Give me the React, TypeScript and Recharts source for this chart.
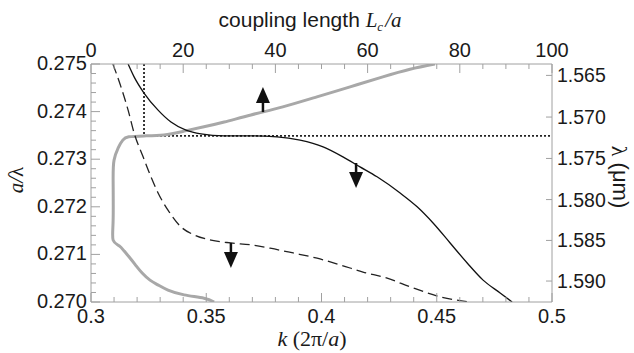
import { ComposedChart, Line, XAxis, YAxis, ReferenceLine, ReferenceDot } from 'recharts';

// lattice constant in µm, links a/λ (left axis) to λ (right axis)
const latticeA = 0.43;

const kMajorTicks = [0.3, 0.35, 0.4, 0.45, 0.5];
const lengthMajorTicks = [0, 20, 40, 60, 80, 100];
const aLambdaMajorTicks = [0.27, 0.271, 0.272, 0.273, 0.274, 0.275];
const lambdaTicks = [1.565, 1.57, 1.575, 1.58, 1.585, 1.59];

// band curves, k (2π/a) vs a/λ
const solidK = [0.3161, 0.3187, 0.323, 0.3291, 0.3347, 0.3412, 0.3477, 0.3577, 0.3694, 0.3807, 0.3907, 0.4007, 0.4093, 0.4167, 0.4241, 0.4341, 0.4415, 0.4484, 0.4558, 0.4632, 0.4701, 0.4775, 0.4827];
const solidY = [0.275, 0.27473, 0.27439, 0.27403, 0.27378, 0.27361, 0.27353, 0.27349, 0.27349, 0.27347, 0.2734, 0.27326, 0.27305, 0.27284, 0.27263, 0.27229, 0.272, 0.27166, 0.27124, 0.27082, 0.27046, 0.27019, 0.27];
const dashedK = [0.3095, 0.313, 0.3161, 0.3187, 0.3226, 0.326, 0.3291, 0.3334, 0.339, 0.3447, 0.3521, 0.3607, 0.3694, 0.3777, 0.3877, 0.3981, 0.4081, 0.418, 0.4285, 0.4384, 0.4515, 0.4645];
const dashedY = [0.275, 0.27452, 0.27403, 0.27355, 0.27305, 0.27263, 0.27229, 0.27193, 0.27158, 0.27141, 0.2713, 0.27124, 0.2712, 0.27113, 0.27103, 0.27092, 0.27078, 0.27063, 0.2705, 0.27032, 0.27011, 0.27];

// coupling length L_c/a vs a/λ (top axis)
const couplingL = [74.6, 69.2, 63.3, 56.2, 49.0, 41.6, 34.7, 28.9, 24.5, 20.2, 15.8, 11.5, 8.2, 6.9, 5.9, 5.0, 4.8, 4.8, 4.8, 6.1, 7.2, 8.5, 9.8, 11.1, 12.8, 14.5, 16.7, 20.2, 24.5, 26.7];
const couplingY = [0.275, 0.27489, 0.27473, 0.27452, 0.27431, 0.2741, 0.27393, 0.27378, 0.27368, 0.27359, 0.27351, 0.27349, 0.27347, 0.2734, 0.27324, 0.27298, 0.27256, 0.27172, 0.2713, 0.27118, 0.27107, 0.27092, 0.27076, 0.27061, 0.27046, 0.27036, 0.27025, 0.27015, 0.27008, 0.27];

const crossL = 11.5;
const crossY = 0.27349;

const solidData = solidK.map((k, i) => ({ k, y: solidY[i] }));
const dashedData = dashedK.map((k, i) => ({ k, y: dashedY[i] }));
const couplingData = couplingL.map((L, i) => ({ L, y: couplingY[i] }));

const kTicks = Array.from({ length: 21 }, (_, i) => +(0.3 + i * 0.01).toFixed(2));
const lengthTicks = Array.from({ length: 21 }, (_, i) => i * 5);
const aLambdaTicks = Array.from({ length: 26 }, (_, i) => +(0.27 + i * 0.0002).toFixed(4));
const lambdaTickPos = lambdaTicks.map((l) => latticeA / l);

const sans = 'Liberation Sans, Arial, sans-serif';
const serif = 'Liberation Serif, Times New Roman, serif';
const textColor = '#1a1a1a';
const frameColor = '#a0a0a0';

const isMajor = (v: number, list: number[]) => list.some((m) => Math.abs(m - v) < 1e-7);

const LeftTick = ({ x, y, payload }: any) => {
  const major = isMajor(payload.value, aLambdaMajorTicks);
  return (
    <g>
      <line x1={x} x2={x + (major ? 9 : 5)} y1={y} y2={y} stroke={frameColor} />
      {major && (
        <text x={x - 4} y={y - 1} textAnchor="end" dominantBaseline="central" fontSize={20} fontFamily={sans} fill={textColor}>
          {payload.value.toFixed(3)}
        </text>
      )}
    </g>
  );
};

const RightTick = ({ x, y, payload }: any) => (
  <g>
    <line x1={x} x2={x - 6} y1={y} y2={y} stroke={frameColor} />
    <text x={x + 5} y={y} textAnchor="start" dominantBaseline="central" fontSize={19.5} fontFamily={sans} fill={textColor}>
      {(latticeA / payload.value).toFixed(3)}
    </text>
  </g>
);

const BottomTick = ({ x, y, payload }: any) => {
  const major = isMajor(payload.value, kMajorTicks);
  return (
    <g>
      <line x1={x} x2={x} y1={y} y2={y - (major ? 9 : 5)} stroke={frameColor} />
      {major && (
        <text x={x} y={y + 7} dy="0.71em" textAnchor="middle" fontSize={20} fontFamily={sans} fill={textColor}>
          {String(payload.value)}
        </text>
      )}
    </g>
  );
};

const TopTick = ({ x, y, payload }: any) => {
  const major = isMajor(payload.value, lengthMajorTicks);
  return (
    <g>
      <line x1={x} x2={x} y1={y} y2={y + (major ? 9 : 5)} stroke={frameColor} />
      {major && (
        <text x={x} y={y - 7} textAnchor="middle" fontSize={20} fontFamily={sans} fill={textColor}>
          {String(payload.value)}
        </text>
      )}
    </g>
  );
};

const TopTitle = () => (
  <text x={310} y={27} textAnchor="middle" fontSize={21} fontFamily={sans} fill={textColor}>
    coupling length{' '}
    <tspan fontFamily={serif} fontStyle="italic">L</tspan>
    <tspan fontFamily={serif} fontStyle="italic" fontSize={13} dy={4}>c</tspan>
    <tspan fontFamily={serif} fontStyle="italic" dy={-4} dx={2}>/a</tspan>
  </text>
);

const BottomTitle = () => (
  <text x={312} y={346} textAnchor="middle" fontSize={22} fontFamily={serif} fill={textColor}>
    <tspan fontStyle="italic">k</tspan> (2π/<tspan fontStyle="italic">a</tspan>)
  </text>
);

const LeftTitle = () => (
  <text x={16} y={180} textAnchor="middle" dominantBaseline="central" fontSize={21} fontFamily={serif} fill={textColor} transform="rotate(-90 16 180)">
    <tspan fontStyle="italic">a/</tspan>λ
  </text>
);

const RightTitle = () => (
  <text x={620} y={177} textAnchor="middle" dominantBaseline="central" fontSize={22} fontFamily={sans} fill={textColor} transform="rotate(90 620 177)">
    <tspan fontFamily={serif}>λ</tspan> (μm)
  </text>
);

// arrow: stem starts on the curve (cx, cy), dir -1 up / 1 down
const arrowShape = (dir: number) => (props: any) => {
  const { cx, cy } = props;
  const stemEnd = cy + dir * 9;
  const tip = cy + dir * 25;
  return (
    <g>
      <line x1={cx} x2={cx} y1={cy} y2={stemEnd + dir * 2} stroke="#111" strokeWidth={2.5} />
      <path d={`M${cx - 7},${stemEnd} L${cx + 7},${stemEnd} L${cx},${tip} Z`} fill="#111" />
    </g>
  );
};

export default function App() {
  return (
    <div style={{ position: 'absolute', left: 0, top: 0, width: 634, height: 353, background: '#fff' }}>
      <ComposedChart width={634} height={353} margin={{ top: 0, right: 0, bottom: 0, left: 0 }}>
        <XAxis
          xAxisId="k"
          dataKey="k"
          type="number"
          orientation="bottom"
          domain={[0.3, 0.5]}
          ticks={kTicks}
          interval={0}
          height={51}
          tickSize={0}
          tickMargin={0}
          tickLine={false}
          axisLine={{ stroke: frameColor }}
          tick={<BottomTick />}
          allowDataOverflow
          label={<BottomTitle />}
        />
        <XAxis
          xAxisId="L"
          dataKey="L"
          type="number"
          orientation="top"
          domain={[0, 100]}
          ticks={lengthTicks}
          interval={0}
          height={64}
          tickSize={0}
          tickMargin={0}
          tickLine={false}
          axisLine={{ stroke: frameColor }}
          tick={<TopTick />}
          allowDataOverflow
          label={<TopTitle />}
        />
        <YAxis
          yAxisId="left"
          dataKey="y"
          type="number"
          domain={[0.27, 0.275]}
          ticks={aLambdaTicks}
          interval={0}
          width={91}
          tickSize={0}
          tickMargin={0}
          tickLine={false}
          axisLine={{ stroke: frameColor }}
          tick={<LeftTick />}
          allowDataOverflow
          label={<LeftTitle />}
        />
        <YAxis
          yAxisId="right"
          orientation="right"
          type="number"
          domain={[0.27, 0.275]}
          ticks={lambdaTickPos}
          interval={0}
          width={82}
          tickSize={0}
          tickMargin={0}
          tickLine={false}
          axisLine={{ stroke: frameColor }}
          tick={<RightTick />}
          allowDataOverflow
          label={<RightTitle />}
        />
        <ReferenceLine
          xAxisId="L"
          yAxisId="left"
          segment={[{ x: crossL, y: 0.275 }, { x: crossL, y: crossY }]}
          stroke="#222"
          strokeWidth={1.8}
          strokeDasharray="2 2"
        />
        <ReferenceLine
          xAxisId="L"
          yAxisId="left"
          segment={[{ x: crossL, y: crossY }, { x: 100, y: crossY }]}
          stroke="#222"
          strokeWidth={1.8}
          strokeDasharray="2 2"
        />
        <Line
          xAxisId="L"
          yAxisId="left"
          data={couplingData}
          dataKey="y"
          type="natural"
          stroke="#a8a8a8"
          strokeWidth={3}
          dot={false}
          activeDot={false}
          isAnimationActive={false}
        />
        <Line
          xAxisId="k"
          yAxisId="left"
          data={dashedData}
          dataKey="y"
          type="monotoneX"
          stroke="#222"
          strokeWidth={1.3}
          strokeDasharray="10 5"
          dot={false}
          activeDot={false}
          isAnimationActive={false}
        />
        <Line
          xAxisId="k"
          yAxisId="left"
          data={solidData}
          dataKey="y"
          type="monotoneX"
          stroke="#111"
          strokeWidth={1.3}
          dot={false}
          activeDot={false}
          isAnimationActive={false}
        />
        <ReferenceDot xAxisId="L" yAxisId="left" x={37.3} y={0.27399} r={0} shape={arrowShape(-1)} />
        <ReferenceDot xAxisId="k" yAxisId="left" x={0.415} y={0.27292} r={0} shape={arrowShape(1)} />
        <ReferenceDot xAxisId="k" yAxisId="left" x={0.3607} y={0.27124} r={0} shape={arrowShape(1)} />
      </ComposedChart>
    </div>
  );
}
